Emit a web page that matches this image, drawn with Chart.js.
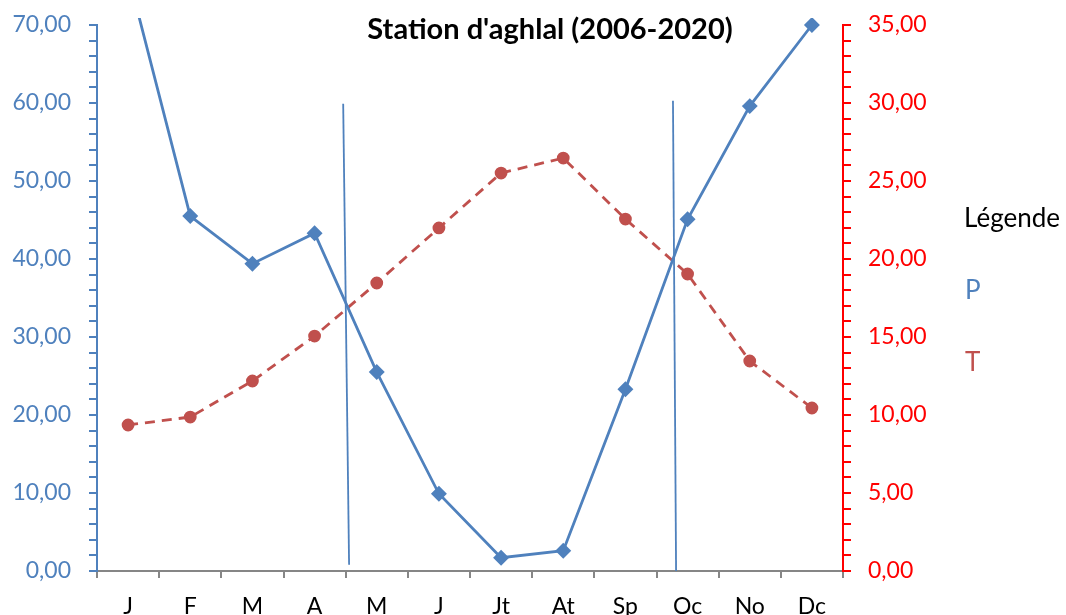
<!DOCTYPE html>
<html>
<head>
<meta charset="utf-8">
<script src="https://cdn.jsdelivr.net/npm/chart.js@4.4.1/dist/chart.umd.min.js"></script>
<style>
  html, body { margin: 0; padding: 0; background: #fff; overflow: hidden; }
  #wrap { width: 1066px; height: 615px; position: relative; }
</style>
</head>
<body>
<div id="wrap"><canvas id="c" width="1066" height="615"></canvas></div>
<script>
// ---- Data ----
const chartTitle = "Station d'aghlal (2006-2020)";
const legendTitle = "Légende";
const months = ["J", "F", "M", "A", "M", "J", "Jt", "At", "Sp", "Oc", "No", "Dc"];
const precipitation = [76.5, 45.5, 39.4, 43.3, 25.5, 9.9, 1.7, 2.6, 23.3, 45.1, 59.6, 70.0];   // P (mm), left axis
const temperature = [9.36, 9.87, 12.18, 15.06, 18.46, 21.99, 25.51, 26.47, 22.56, 19.04, 13.46, 10.45]; // T (°C), right axis
// Two hand-drawn separators (category index position, P-axis value)
const separator1X = [3.46, 3.555];
const separator1Y = [59.9, 0.8];
const separator2X = [8.765, 8.815];
const separator2Y = [60.3, 0.0];
const pTicksMax = 70;
const tTicksMax = 35;

const blue = '#4F81BD';
const red = '#C0504D';
const FONT = 'Lato, "Open Sans", sans-serif';

const fmt = v => v.toFixed(2).replace('.', ',');

const titlePlugin = {
  id: 'titleText',
  afterDraw(chart) {
    const ctx = chart.ctx;
    ctx.save();
    ctx.font = 'bold 29px ' + FONT;
    ctx.fillStyle = '#000';
    ctx.textAlign = 'center';
    ctx.textBaseline = 'middle';
    ctx.fillText(chartTitle, 550, 30);
    ctx.restore();
  }
};

const legendPlugin = {
  id: 'sideLegend',
  afterDraw(chart) {
    const ctx = chart.ctx;
    ctx.save();
    ctx.font = '26px ' + FONT;
    ctx.textAlign = 'left';
    ctx.textBaseline = 'middle';
    ctx.fillStyle = '#000';
    ctx.fillText(legendTitle, 964, 219);
    const items = chart.data.datasets.filter(d => d.inLegend);
    items.forEach((d, i) => {
      ctx.fillStyle = d.borderColor;
      ctx.fillText(d.label, 965, 291 + i * 72);
    });
    ctx.restore();
  }
};

const noVPad = s => { s.paddingTop = 0; s.paddingBottom = 0; };

new Chart(document.getElementById('c'), {
  type: 'line',
  data: {
    labels: months,
    datasets: [
      {
        label: 'P', inLegend: true,
        data: precipitation,
        yAxisID: 'y', xAxisID: 'x',
        borderColor: blue, backgroundColor: blue,
        borderWidth: 2.8,
        pointStyle: 'rectRot', pointRadius: 6, pointHoverRadius: 6,
        tension: 0,
        clip: { left: false, top: 7, right: false, bottom: false }
      },
      {
        label: 'T', inLegend: true,
        data: temperature,
        yAxisID: 'y2', xAxisID: 'x',
        borderColor: red, backgroundColor: red,
        borderWidth: 2.8, borderDash: [10, 7],
        pointStyle: 'circle', pointRadius: 5, pointHoverRadius: 5,
        tension: 0
      },
      {
        label: 'sep1', inLegend: false,
        data: separator1X.map((x, i) => ({ x, y: separator1Y[i] })),
        xAxisID: 'x2', yAxisID: 'y',
        borderColor: blue, borderWidth: 1.8, pointRadius: 0, tension: 0
      },
      {
        label: 'sep2', inLegend: false,
        data: separator2X.map((x, i) => ({ x, y: separator2Y[i] })),
        xAxisID: 'x2', yAxisID: 'y',
        borderColor: blue, borderWidth: 1.8, pointRadius: 0, tension: 0
      }
    ]
  },
  options: {
    responsive: false,
    animation: false,
    events: [],
    layout: { padding: { left: 0, right: 123, top: 25, bottom: 0 } },
    plugins: { legend: { display: false }, title: { display: false }, tooltip: { enabled: false } },
    scales: {
      x: {
        type: 'category', offset: true, position: 'bottom',
        border: { color: '#868686', width: 2 },
        grid: { offset: true, drawOnChartArea: false, drawTicks: true, tickLength: 7, color: '#868686', lineWidth: 2 },
        ticks: { color: '#000', font: { family: FONT, size: 23 }, padding: 15, autoSkip: false, maxRotation: 0 },
        afterFit: s => { s.height = 44; s.paddingLeft = 0; s.paddingRight = 0; }
      },
      x2: {
        type: 'linear', min: -0.5, max: 11.5, display: false
      },
      y: {
        type: 'linear', position: 'left', min: 0, max: pTicksMax,
        border: { color: blue, width: 2 },
        grid: { drawOnChartArea: false, tickLength: 8, color: blue, lineWidth: 2 },
        ticks: {
          stepSize: 2, autoSkip: false, color: blue, padding: 18,
          font: { family: FONT, size: 23 },
          callback: v => (v % 10 === 0 ? fmt(v) : '')
        },
        afterFit: s => { s.width = 97; noVPad(s); }
      },
      y2: {
        type: 'linear', position: 'right', min: 0, max: tTicksMax,
        border: { color: '#FF0000', width: 2 },
        grid: { drawOnChartArea: false, tickLength: 8, color: '#FF0000', lineWidth: 2 },
        ticks: {
          stepSize: 1, autoSkip: false, color: '#FF0000', padding: 17,
          font: { family: FONT, size: 23 },
          callback: v => (v % 5 === 0 ? fmt(v) : '')
        },
        afterFit: s => { s.width = 100; noVPad(s); }
      }
    }
  },
  plugins: [titlePlugin, legendPlugin]
});
</script>
</body>
</html>
